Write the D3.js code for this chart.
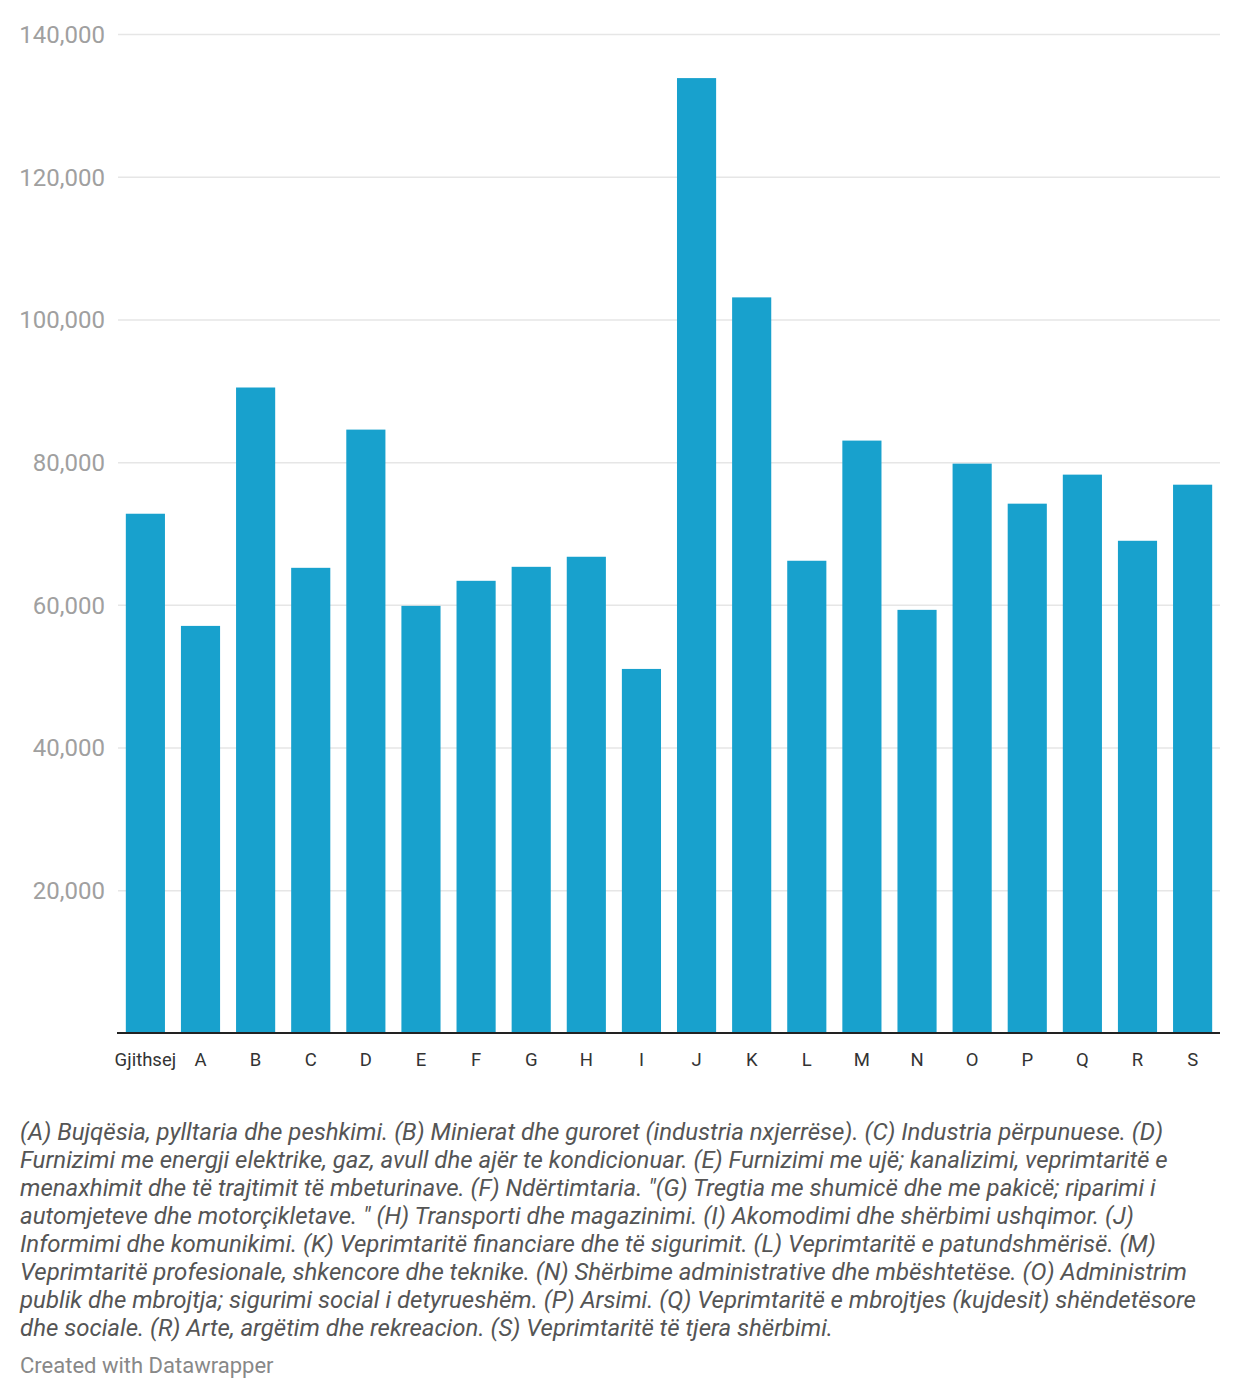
<!DOCTYPE html>
<html>
<head>
<meta charset="utf-8">
<script src="https://cdn.jsdelivr.net/npm/d3@7"></script>
<style>
  body { margin: 0; background: #fff; }
  svg text { font-family: Roboto, "Noto Sans", sans-serif; }
</style>
</head>
<body>
<svg id="chart" width="1240" height="1398"></svg>
<script>
// sectors, Gjithsej = total
var categories = ['Gjithsej', 'A', 'B', 'C', 'D', 'E', 'F', 'G', 'H', 'I',
                  'J', 'K', 'L', 'M', 'N', 'O', 'P', 'Q', 'R', 'S'];

var values = [72770, 57050, 90460, 65190, 84560, 59860, 63370, 65330, 66740, 51020,
              133820, 103090, 66180, 83020, 59300, 79790, 74180, 78250, 68980, 76840];

var yTicks = [20000, 40000, 60000, 80000, 100000, 120000, 140000];

var notes = [
  '(A) Bujqësia, pylltaria dhe peshkimi. (B) Minierat dhe guroret (industria nxjerrëse). (C) Industria përpunuese. (D)',
  'Furnizimi me energji elektrike, gaz, avull dhe ajër te kondicionuar. (E) Furnizimi me ujë; kanalizimi, veprimtaritë e',
  'menaxhimit dhe të trajtimit të mbeturinave. (F) Ndërtimtaria. "(G) Tregtia me shumicë dhe me pakicë; riparimi i',
  'automjeteve dhe motorçikletave. " (H) Transporti dhe magazinimi. (I) Akomodimi dhe shërbimi ushqimor. (J)',
  'Informimi dhe komunikimi. (K) Veprimtaritë financiare dhe të sigurimit. (L) Veprimtaritë e patundshmërisë. (M)',
  'Veprimtaritë profesionale, shkencore dhe teknike. (N) Shërbime administrative dhe mbështetëse. (O) Administrim',
  'publik dhe mbrojtja; sigurimi social i detyrueshëm. (P) Arsimi. (Q) Veprimtaritë e mbrojtjes (kujdesit) shëndetësore',
  'dhe sociale. (R) Arte, argëtim dhe rekreacion. (S) Veprimtaritë të tjera shërbimi.'
];

var credit = 'Created with Datawrapper';

var plotLeft = 117, plotRight = 1221, plotTop = 34, plotBottom = 1033;

var svg = d3.select('#chart');

var x = d3.scaleBand()
  .domain(categories)
  .range([plotLeft, plotRight])
  .paddingInner(0.29)
  .paddingOuter(0.16);

var y = d3.scaleLinear()
  .domain([0, 140000])
  .range([plotBottom, plotTop]);

// grid + y labels
var yAxis = svg.append('g')
  .attr('transform', 'translate(' + (plotLeft + 1) + ',0)')
  .call(d3.axisLeft(y)
    .tickValues(yTicks)
    .tickSize(-(1220 - plotLeft - 1))
    .tickPadding(13)
    .tickFormat(d3.format(',')));
yAxis.select('.domain').remove();
yAxis.selectAll('.tick line').attr('stroke', '#e6e6e6').attr('stroke-width', 1.5);
yAxis.selectAll('.tick text')
  .attr('fill', '#a0a0a0')
  .style('font-size', '24px')
  .attr('dy', '0.35em');

// bars
svg.append('g').selectAll('rect')
  .data(values)
  .enter().append('rect')
  .attr('x', function(d, i) { return x(categories[i]); })
  .attr('y', function(d) { return y(d); })
  .attr('width', x.bandwidth())
  .attr('height', function(d) { return y(0) - y(d); })
  .attr('fill', '#18a1cd');

// baseline + x labels
var xAxis = svg.append('g')
  .attr('transform', 'translate(0,' + plotBottom + ')')
  .call(d3.axisBottom(x).tickSize(0).tickPadding(20));
xAxis.select('.domain').remove();
xAxis.selectAll('.tick text')
  .attr('fill', '#333')
  .style('font-size', '18.5px');

svg.append('line')
  .attr('x1', plotLeft).attr('x2', 1220)
  .attr('y1', plotBottom).attr('y2', plotBottom)
  .attr('stroke', '#222').attr('stroke-width', 2);

// notes
svg.append('g').selectAll('text')
  .data(notes)
  .enter().append('text')
  .attr('x', 20)
  .attr('y', function(d, i) { return 1140 + i * 28; })
  .attr('fill', '#555')
  .style('font-size', '24px')
  .style('font-style', 'italic')
  .text(function(d) { return d; });

svg.append('text')
  .attr('x', 20)
  .attr('y', 1373)
  .attr('fill', '#888')
  .style('font-size', '22px')
  .text(credit);
</script>
</body>
</html>
